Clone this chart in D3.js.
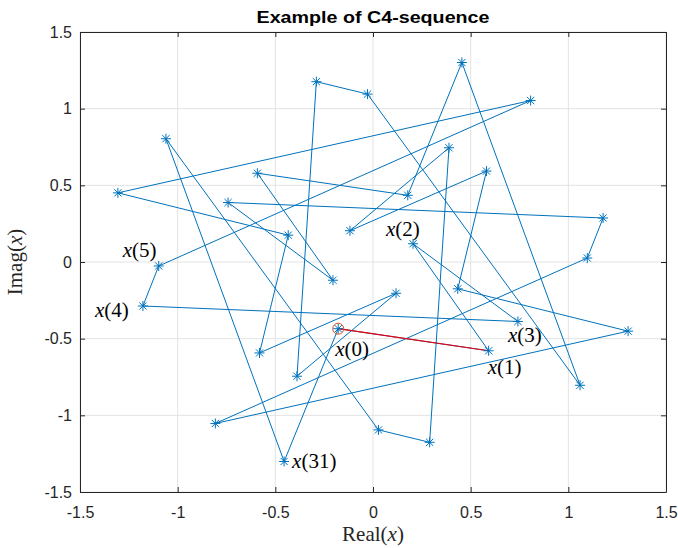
<!DOCTYPE html>
<html>
<head>
<meta charset="utf-8">
<script src="https://d3js.org/d3.v7.min.js"></script>
<style>
  body { margin: 0; background: #fff; }
  svg { display: block; }
</style>
</head>
<body>
<div id="chart-area"></div>
<script>
// C4-sequence samples x(0)..x(31)
var realPart = [-0.178, 0.592, 0.205, 0.742, -1.178, -1.097, 0.807, -1.306,
    -0.434, -0.581, 0.118, -0.389, -0.290, -0.028, 1.060, 0.455,
    0.178, -0.592, -0.205, -0.742, 1.178, 1.097, -0.807, 1.306,
    0.434, 0.581, -0.118, 0.389, 0.290, 0.028, -1.060, -0.455];
var imagPart = [-0.435, -0.579, 0.119, -0.388, -0.287, -0.026, 1.053, 0.451,
    0.175, -0.593, -0.204, -0.745, 1.176, 1.095, -0.804, 1.301,
    0.435, 0.579, -0.119, 0.388, 0.287, 0.026, -1.053, -0.451,
    -0.175, 0.593, 0.204, 0.745, -1.176, -1.095, 0.804, -1.301];

// which samples get a text label
var labelIndex = [0, 1, 2, 3, 4, 5, 31];

// tick values for both axes
var tickValues = [-1.5, -1, -0.5, 0, 0.5, 1, 1.5];

var margin = { left: 80, right: 12, top: 32, bottom: 56 };
var width = 678 - margin.left - margin.right,
    height = 548 - margin.top - margin.bottom;

var svg = d3.select("#chart-area")
    .append("svg")
        .attr("width", 678)
        .attr("height", 548);

var g = svg.append("g")
    .attr("transform", "translate(" + margin.left + "," + margin.top + ")");

// Scales
var x = d3.scaleLinear().domain([-1.5, 1.5]).range([0, width]);
var y = d3.scaleLinear().domain([-1.5, 1.5]).range([height, 0]);

var pts = realPart.map(function(r, i) { return { k: i, re: r, im: imagPart[i] }; });

// Grid
g.append("g").selectAll("line")
    .data(tickValues)
    .enter().append("line")
        .attr("x1", function(d) { return x(d); })
        .attr("x2", function(d) { return x(d); })
        .attr("y1", 0)
        .attr("y2", height)
        .attr("stroke", "#e3e3e3");
g.append("g").selectAll("line")
    .data(tickValues)
    .enter().append("line")
        .attr("y1", function(d) { return y(d); })
        .attr("y2", function(d) { return y(d); })
        .attr("x1", 0)
        .attr("x2", width)
        .attr("stroke", "#e3e3e3");

// Axes (ticks point inward, box on)
function styleAxis(sel) {
    sel.select(".domain").attr("stroke", "#262626");
    sel.selectAll(".tick line").attr("stroke", "#262626");
    sel.selectAll("text")
        .attr("fill", "#262626")
        .attr("font-family", "'Liberation Sans', Arial, sans-serif")
        .attr("font-size", "16px");
}

// plain hyphen minus like MATLAB
var fmt = function(d) { return String(d); };

g.append("g")
    .attr("transform", "translate(0," + height + ")")
    .call(d3.axisBottom(x).tickValues(tickValues).tickSizeInner(-5).tickSizeOuter(0)
        .tickPadding(15).tickFormat(fmt))
    .call(styleAxis);
g.append("g")
    .call(d3.axisLeft(y).tickValues(tickValues).tickSizeInner(-5).tickSizeOuter(0)
        .tickPadding(8).tickFormat(fmt))
    .call(styleAxis);
g.append("g")
    .call(d3.axisTop(x).tickValues(tickValues).tickSizeInner(-5).tickSizeOuter(0)
        .tickFormat(""))
    .call(styleAxis);
g.append("g")
    .attr("transform", "translate(" + width + ",0)")
    .call(d3.axisRight(y).tickValues(tickValues).tickSizeInner(-5).tickSizeOuter(0)
        .tickFormat(""))
    .call(styleAxis);

// Closed path through all samples
var line = d3.line()
    .x(function(d) { return x(d.re); })
    .y(function(d) { return y(d.im); });

g.append("path")
    .datum(pts.concat([pts[0]]))
    .attr("d", line)
    .attr("fill", "none")
    .attr("stroke", "#0072BD")
    .attr("stroke-width", 1);

// First step x(0) -> x(1) in red
g.append("path")
    .datum(pts.slice(0, 2))
    .attr("d", line)
    .attr("fill", "none")
    .attr("stroke", "#e8000b")
    .attr("stroke-width", 1.2);

// Asterisk markers
var r = 5, s = r * 0.72;
var star = "M0," + (-r) + "V" + r + "M" + (-r) + ",0H" + r +
    "M" + (-s) + "," + (-s) + "L" + s + "," + s +
    "M" + (-s) + "," + s + "L" + s + "," + (-s);

g.append("g").selectAll("path")
    .data(pts)
    .enter().append("path")
        .attr("transform", function(d) { return "translate(" + x(d.re) + "," + y(d.im) + ")"; })
        .attr("d", star)
        .attr("fill", "none")
        .attr("stroke", "#0072BD")
        .attr("stroke-width", 1);

// Circle on the start sample
g.append("circle")
    .attr("cx", x(pts[0].re))
    .attr("cy", y(pts[0].im))
    .attr("r", 5.5)
    .attr("fill", "none")
    .attr("stroke", "#D95319")
    .attr("stroke-width", 1);

// Labels x(k), offsets in px from the marker
var labelOffset = { 0: [-3, 27], 1: [-1, 23], 2: [-27, -8], 3: [-10, 21],
    4: [-48, 11], 5: [-36, -9], 31: [8, 7] };

var labels = g.append("g").selectAll("text")
    .data(labelIndex)
    .enter().append("text")
        .attr("x", function(k) { return x(pts[k].re) + labelOffset[k][0]; })
        .attr("y", function(k) { return y(pts[k].im) + labelOffset[k][1]; })
        .attr("font-family", "'Liberation Serif', 'Times New Roman', serif")
        .attr("font-size", "21px")
        .attr("fill", "#000");
labels.append("tspan").attr("font-style", "italic").text("x");
labels.append("tspan").text(function(k) { return "(" + k + ")"; });

// Title
svg.append("text")
    .attr("x", margin.left + width / 2)
    .attr("y", 22.5)
    .attr("text-anchor", "middle")
    .attr("font-family", "'Liberation Sans', Arial, sans-serif")
    .attr("font-weight", "bold")
    .attr("font-size", "16.5px")
    .attr("textLength", 233)
    .attr("lengthAdjust", "spacingAndGlyphs")
    .attr("fill", "#000")
    .text("Example of C4-sequence");

// X Label
var xLabel = svg.append("text")
    .attr("x", margin.left + width / 2)
    .attr("y", 541)
    .attr("text-anchor", "middle")
    .attr("font-family", "'Liberation Serif', 'Times New Roman', serif")
    .attr("font-size", "21px")
    .attr("fill", "#262626");
xLabel.append("tspan").text("Real(");
xLabel.append("tspan").attr("font-style", "italic").text("x");
xLabel.append("tspan").text(")");

// Y Label
var yLabel = svg.append("text")
    .attr("transform", "translate(22," + (margin.top + height / 2) + ") rotate(-90)")
    .attr("text-anchor", "middle")
    .attr("font-family", "'Liberation Serif', 'Times New Roman', serif")
    .attr("font-size", "21px")
    .attr("fill", "#262626");
yLabel.append("tspan").text("Imag(");
yLabel.append("tspan").attr("font-style", "italic").text("x");
yLabel.append("tspan").text(")");
</script>
</body>
</html>
